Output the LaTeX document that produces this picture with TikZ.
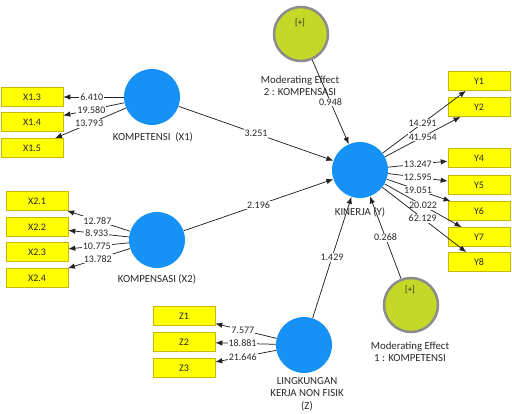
\documentclass[tikz,border=0pt]{standalone}
\usepackage{fontspec}
\setmainfont{Carlito}
\usetikzlibrary{arrows.meta}
\definecolor{lvblue}{RGB}{22,145,245}
\definecolor{indyel}{RGB}{255,255,0}
\definecolor{indb}{RGB}{200,185,0}
\definecolor{modg}{RGB}{196,216,40}
\definecolor{modb}{RGB}{140,140,140}
\definecolor{txt}{RGB}{40,40,40}
\definecolor{ln}{RGB}{35,35,35}
\begin{document}
\begin{tikzpicture}[x=1pt,y=-1pt,
 lv/.style={circle, fill=lvblue, minimum size=56pt, inner sep=0pt},
 mod/.style={circle, fill=modg, draw=modb, line width=2.5pt, minimum size=54pt, inner sep=0pt},
 ind/.style={rectangle, fill=indyel, draw=indb, line width=0.6pt, minimum width=62pt, minimum height=19pt, inner sep=0pt, font=\fontsize{10}{12}\selectfont, text=txt},
 nm/.style={font=\fontsize{10.8}{12.5}\selectfont, text=txt, align=center, inner sep=0pt},
 plus/.style={font=\fontsize{9}{10}\selectfont, text=txt, inner sep=0pt},
 arr/.style={draw=ln, line width=0.75pt, -{Latex[length=7pt,width=5.5pt]}},
 w/.style={fill=white, inner sep=1pt, font=\fontsize{10}{12}\selectfont, text=txt},
]
\useasboundingbox (0,0) rectangle (512,413);

% latent variables
\node[lv] (x1) at (152,97) {};
\node[lv] (x2) at (157,240) {};
\node[lv] (z) at (304,345) {};
\node[lv] (y) at (360,170) {};
\node[mod] (m2) at (301,34) {};
\node[mod] (m1) at (411,305) {};
\node[plus] (m2p) at (300,23) {[+]};
\node[plus] (m1p) at (410,290) {[+]};

% names
\node[nm] (nx1) at (153,137) {KOMPETENSI\ \ (X1)};
\node[nm] (nx2) at (157,279) {KOMPENSASI (X2)};
\node[nm] (nz) at (307,394) {LINGKUNGAN\\KERJA NON FISIK\\(Z)};
\node[nm] (ny) at (360,212) {KINERJA (Y)};
\node[nm] (nm2) at (300,86) {Moderating Effect\\2 : KOMPENSASI};
\node[nm] (nm1) at (410,352) {Moderating Effect\\1 : KOMPETENSI};

% indicators
\node[ind] (x13) at (32,97) {X1.3};
\node[ind] (x14) at (32,122) {X1.4};
\node[ind] (x15) at (32,148) {X1.5};
\node[ind] (x21) at (37,201) {X2.1};
\node[ind] (x22) at (37,227) {X2.2};
\node[ind] (x23) at (37,252) {X2.3};
\node[ind] (x24) at (37,278) {X2.4};
\node[ind] (z1) at (184,316) {Z1};
\node[ind] (z2) at (184,342) {Z2};
\node[ind] (z3) at (184,368) {Z3};
\node[ind] (y1) at (479,81) {Y1};
\node[ind] (y2) at (479,107) {Y2};
\node[ind] (y4) at (479,158) {Y4};
\node[ind] (y5) at (479,185) {Y5};
\node[ind] (y6) at (479,211) {Y6};
\node[ind] (y7) at (479,237) {Y7};
\node[ind] (y8) at (479,262) {Y8};

% outer loadings
\draw[arr] (x1) -- node[w,pos=0.53] {6.410} (x13);
\draw[arr] (x1) -- node[w,pos=0.54] {19.580} (x14);
\draw[arr] (x1) -- node[w,pos=0.52] {13.793} (x15);
\draw[arr] (x2) -- node[w,pos=0.52] {12.787} (x21);
\draw[arr] (x2) -- node[w,pos=0.53] {8.933} (x22);
\draw[arr] (x2) -- node[w,pos=0.53] {10.775} (x23);
\draw[arr] (x2) -- node[w,pos=0.52] {13.782} (x24);
\draw[arr] (z) -- node[w,pos=0.55] {7.577} (z1);
\draw[arr] (z) -- node[w,pos=0.55] {18.881} (z2);
\draw[arr] (z) -- node[w,pos=0.55] {21.646} (z3);
\draw[arr] (y) -- node[w,pos=0.48] {14.291} (y1);
\draw[arr] (y) -- node[w,pos=0.5] {41.954} (y2);
\draw[arr] (y) -- node[w,pos=0.5] {13.247} (y4);
\draw[arr] (y) -- node[w,pos=0.5] {12.595} (y5);
\draw[arr] (y) -- node[w,pos=0.49] {19.051} (y6);
\draw[arr] (y) -- node[w,pos=0.5] {20.022} (y7);
\draw[arr] (y) -- node[w,pos=0.48] {62.129} (y8);

% structural paths
\draw[arr] (x1) -- node[w] {3.251} (y);
\draw[arr] (x2) -- node[w] {2.196} (y);
\draw[arr] (z) -- node[w] {1.429} (y);
\draw[arr] (m1) -- node[w] {0.268} (y);
\draw[arr] (m2) -- node[w] {0.948} (y);
\end{tikzpicture}
\end{document}
